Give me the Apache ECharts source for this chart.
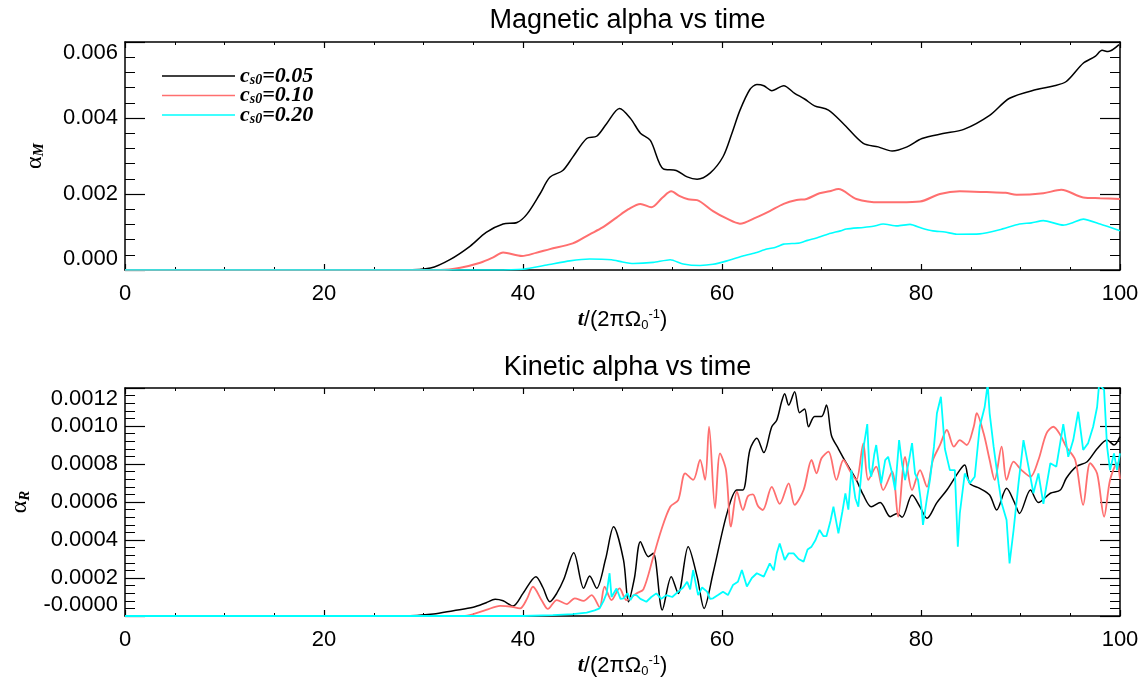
<!DOCTYPE html>
<html>
<head>
<meta charset="utf-8">
<script src="https://cdn.jsdelivr.net/npm/echarts@6/dist/echarts.min.js"></script>
<style>
html,body{margin:0;padding:0;background:#fff;}
#chart{width:1141px;height:677px;}
</style>
</head>
<body>
<div id="chart"></div>
<script>
// ---------- DATA ----------
// Titles
const topTitle = 'Magnetic alpha vs time';
const botTitle = 'Kinetic alpha vs time';
const seriesLabels = ['0.05', '0.10', '0.20'];
const xTickLabels = [0, 20, 40, 60, 80, 100];

// Magnetic alpha (units of 1e-3)
const magBlackT = [0, 28, 30.7, 32.7, 34.7, 36.3, 38, 39.4, 40.4, 41.7, 42.7, 44, 45, 46.4, 47.4, 48.4, 49.7, 50.8, 51.8, 52.8, 54.1, 55.4, 56.5, 57.5, 58.8, 60.1, 61.0, 61.8, 62.8, 63.5, 64.2, 65, 66.2, 67.3, 68.3, 69.3, 70.7, 72.2, 74.2, 75.7, 77.1, 78.6, 80.1, 82.2, 84.3, 86.9, 88.9, 91.6, 93.3, 94.6, 96.3, 97.5, 98.2, 98.8, 99.9];
const magBlackV = [0, 0, 0.05, 0.28, 0.63, 0.99, 1.21, 1.25, 1.47, 2.0, 2.44, 2.62, 2.97, 3.46, 3.52, 3.85, 4.25, 3.99, 3.6, 3.41, 2.66, 2.62, 2.45, 2.39, 2.55, 2.98, 3.6, 4.2, 4.75, 4.88, 4.85, 4.72, 4.85, 4.65, 4.5, 4.32, 4.21, 3.85, 3.33, 3.24, 3.13, 3.24, 3.46, 3.59, 3.70, 4.07, 4.52, 4.75, 4.84, 4.96, 5.44, 5.62, 5.78, 5.75, 5.93];

const magRedT = [0, 31.7, 33.7, 35.7, 37, 38, 39.9, 41.3, 42.7, 45, 46.7, 48, 49.4, 50.6, 51.8, 52.9, 54, 54.9, 55.7, 56.6, 57.5, 59.1, 60.5, 61.8, 63.4, 64.8, 66.2, 67.5, 68.5, 69.8, 70.8, 71.7, 73.5, 75.9, 77.9, 79.9, 81.9, 83.9, 86.6, 88.5, 89.6, 92.3, 94.1, 96.3, 98, 100];
const magRedV = [0, 0, 0.06, 0.19, 0.33, 0.46, 0.37, 0.45, 0.55, 0.70, 0.94, 1.12, 1.38, 1.6, 1.74, 1.65, 1.9, 2.07, 1.95, 1.86, 1.84, 1.55, 1.35, 1.22, 1.38, 1.55, 1.74, 1.84, 1.87, 2.02, 2.07, 2.13, 1.87, 1.78, 1.78, 1.80, 2.0, 2.07, 2.05, 2.03, 1.98, 2.02, 2.11, 1.91, 1.89, 1.87];

const magCyanT = [0, 37, 40, 42.4, 44.7, 46.7, 48.9, 50, 51.1, 53.1, 54.8, 56.1, 57.8, 59.1, 60.5, 62.1, 63.3, 64.5, 65.4, 66.2, 67.8, 68.6, 69.5, 70.7, 71.9, 72.5, 74.2, 75.2, 76.2, 77.6, 78.9, 80.1, 81.2, 82.4, 83.6, 85.9, 87.9, 89.9, 91.1, 92.3, 94.3, 95.3, 96.3, 98, 100];
const magCyanV = [0, 0, 0.02, 0.13, 0.24, 0.29, 0.27, 0.21, 0.17, 0.20, 0.27, 0.16, 0.12, 0.15, 0.24, 0.37, 0.45, 0.55, 0.60, 0.68, 0.71, 0.78, 0.84, 0.95, 1.03, 1.08, 1.12, 1.15, 1.21, 1.16, 1.20, 1.10, 1.03, 1.00, 0.94, 0.95, 1.06, 1.21, 1.24, 1.30, 1.18, 1.25, 1.34, 1.21, 1.03];

// Kinetic alpha (units of 1e-4)
const kinBlackT = [0, 28, 31, 33, 35, 36.3, 37.2, 38, 39, 40, 41.3, 42, 42.7, 43.4, 44.1, 45.1, 46.1, 46.7, 47.4, 48.3, 49.1, 50.1, 50.6, 51.2, 51.8, 52.6, 53.1, 54, 54.9, 55.6, 56.6, 57.5, 58.2, 59.1, 60.5, 61.5, 62.1, 62.8, 63.5, 64.2, 65, 65.5, 66, 66.3, 66.7, 67.3, 67.8, 68.3, 68.7, 69.3, 70, 70.5, 71, 71.7, 72.5, 73.5, 74.2, 75, 75.9, 76.9, 77.6, 78.1, 79.1, 79.9, 80.6, 81.6, 82.6, 83.9, 84.4, 84.9, 85.9, 86.9, 87.6, 88.6, 89.4, 89.9, 91, 91.8, 93, 94, 94.6, 95.6, 96.7, 97.7, 98.7, 99.4, 100];
const kinBlackV = [0, 0, 0.1, 0.28, 0.46, 0.7, 0.88, 0.8, 0.53, 1.19, 2.07, 1.5, 0.75, 1.2, 1.93, 3.33, 1.46, 2.1, 1.46, 3.0, 4.7, 2.95, 0.75, 2.0, 3.91, 3.12, 3.3, 0.32, 2.07, 1.19, 3.65, 2.07, 0.4, 2.25, 5.4, 6.63, 6.63, 8.74, 9.35, 8.6, 9.96, 10.3, 11.3, 11.7, 11.1, 11.8, 10.7, 10.9, 9.96, 10.5, 10.5, 11.1, 9.5, 8.8, 8.04, 7.16, 6.37, 5.75, 5.97, 5.23, 5.4, 5.2, 6.37, 5.75, 5.14, 5.97, 6.63, 7.68, 7.95, 6.98, 6.72, 6.37, 5.58, 6.72, 5.97, 5.4, 6.63, 5.97, 6.46, 6.63, 7.25, 7.86, 8.12, 8.8, 9.26, 9.0, 9.44];

const kinRedT = [0, 34, 35, 36.3, 37.7, 38.7, 39.7, 40.4, 41, 41.9, 42.5, 43.4, 44.4, 45.2, 46.1, 46.9, 47.7, 48.2, 48.9, 49.7, 50.4, 51.4, 52.1, 53.1, 53.9, 54.8, 55.6, 56.3, 57.1, 57.8, 58.3, 58.7, 59.3, 59.8, 60.4, 60.9, 61.5, 62.1, 62.6, 63.1, 63.6, 64.1, 65, 65.8, 66.7, 67.3, 68.2, 69, 69.5, 70, 70.7, 71.5, 72.2, 72.9, 73.5, 74.2, 74.7, 75.5, 76.2, 77.1, 77.7, 78.4, 79.1, 79.9, 80.6, 81.2, 81.9, 82.6, 83.3, 83.9, 84.6, 85.3, 85.6, 86.3, 86.9, 87.4, 88.1, 88.6, 89.3, 90.1, 91, 91.8, 92.6, 93.3, 94, 94.6, 95.5, 96.3, 97, 97.7, 98.4, 99, 99.7, 100];
const kinRedV = [0, 0, 0.1, 0.32, 0.53, 0.5, 0.4, 0.9, 1.54, 0.8, 0.37, 0.84, 0.63, 0.93, 0.8, 1.1, 0.47, 1.54, 0.84, 1.45, 0.84, 1.19, 1.4, 3.12, 4.53, 5.75, 6.1, 7.51, 7.16, 8.21, 7.16, 9.96, 5.67, 8.56, 7.68, 4.7, 6.54, 5.58, 6.3, 6.4, 5.8, 5.58, 6.8, 5.9, 6.98, 5.85, 6.63, 8.21, 7.51, 8.3, 8.65, 7.16, 8.21, 7.6, 7.16, 9.09, 7.16, 7.86, 6.63, 7.6, 5.23, 8.38, 6.63, 7.68, 6.8, 8.21, 8.99, 9.79, 8.91, 9.26, 9.0, 9.96, 10.67, 9.6, 8.21, 7.16, 8.91, 7.16, 8.12, 7.68, 7.33, 8.21, 9.6, 9.96, 9.53, 8.91, 8.21, 5.85, 8.04, 7.5, 5.23, 7.16, 8.04, 7.2];

const kinCyanT = [0, 40, 43, 45, 46.4, 47.2, 47.7, 48.1, 48.4, 48.7, 48.9, 49.1, 49.4, 49.8, 50.1, 50.5, 50.8, 51.1, 51.4, 51.8, 52.4, 52.9, 53.4, 53.9, 54.4, 55, 55.6, 56.1, 56.5, 56.8, 57.1, 57.4, 57.6, 58, 58.5, 58.8, 59.1, 59.6, 60.1, 60.6, 61.1, 61.6, 62, 62.5, 63, 63.5, 64.2, 64.8, 65.2, 65.5, 65.8, 66.3, 66.7, 67.2, 67.7, 68.2, 68.6, 69, 69.4, 69.8, 70.2, 70.5, 70.9, 71.2, 71.7, 72.1, 72.4, 72.7, 73, 73.4, 73.7, 74, 74.2, 74.6, 74.8, 75, 75.3, 75.5, 75.8, 76, 76.4, 76.7, 77.1, 77.4, 77.8, 78.1, 78.4, 78.8, 79.1, 79.4, 79.7, 80, 80.2, 80.6, 80.9, 81.3, 81.6, 82, 82.2, 82.4, 82.9, 83.4, 83.7, 83.9, 84.4, 84.9, 85.4, 85.9, 86.4, 86.7, 86.9, 87.3, 87.8, 88.1, 88.6, 88.9, 89.3, 89.8, 90.3, 90.8, 91.3, 91.8, 92.3, 93, 93.6, 94.3, 94.8, 95.3, 95.8, 96.3, 96.8, 97.3, 97.7, 97.9, 98.4, 98.7, 99, 99.4, 99.7, 100];
const kinCyanV = [0, 0, 0.05, 0.1, 0.18, 0.3, 0.4, 0.8, 1.19, 2.25, 1.0, 0.93, 1.45, 0.9, 0.93, 1.2, 0.84, 1.1, 1.1, 0.9, 0.75, 1.0, 1.19, 0.9, 1.1, 1.0, 1.28, 1.5, 1.8, 1.4, 2.42, 1.6, 1.1, 1.5, 1.28, 0.9, 0.93, 1.1, 1.28, 1.1, 1.63, 1.8, 2.42, 1.55, 2.0, 2.25, 2.07, 2.77, 2.4, 3.3, 3.82, 2.95, 3.3, 3.3, 3.0, 2.86, 3.5, 3.65, 4.0, 4.53, 4.2, 4.2, 5.0, 5.75, 4.35, 5.5, 6.45, 5.6, 7.68, 6.2, 5.75, 7.5, 8.8, 10.1, 7.8, 7.33, 8.5, 9.0, 7.8, 6.98, 8.2, 8.38, 7.5, 6.63, 9.26, 8.0, 7.16, 8.2, 9.1, 7.5, 7.16, 6.0, 4.79, 6.2, 7.16, 8.9, 10.67, 11.54, 10.2, 8.8, 7.68, 7.68, 3.65, 5.4, 7.5, 6.98, 7.33, 9.96, 11.0, 12.2, 10.67, 8.91, 6.98, 5.95, 5.05, 2.77, 4.5, 6.98, 9.26, 7.86, 6.46, 7.5, 5.9, 8.04, 7.86, 10.1, 8.38, 9.26, 10.75, 8.74, 9.1, 9.96, 11.0, 12.2, 11.9, 8.91, 7.68, 8.56, 7.68, 8.56];

const magScale = 1e-3;
const kinScale = 1e-4;

// ---------- BUILD ----------
function pairs(ts, vs, s) { return ts.map((t, i) => [t, vs[i] * s]); }

const SANS = '"Liberation Sans", Arial, Helvetica, sans-serif';
const SERIF = '"Liberation Serif", "Times New Roman", serif';
const colors = ['#000000', '#ff6f6f', '#00ffff'];
const names = seriesLabels.map(l => 'cs0=' + l);

function xAxisBottom(gridIndex) {
  return {
    type: 'value', gridIndex, position: 'bottom', min: 0, max: 100, interval: 20,
    axisLine: { show: true, onZero: false, lineStyle: { color: '#000', width: 1.5 } },
    axisTick: { show: true, inside: true, length: 6, lineStyle: { color: '#000', width: 1.2 } },
    minorTick: { show: true, splitNumber: 4, length: 3, lineStyle: { color: '#000', width: 1 } },
    splitLine: { show: false },
    axisLabel: { show: true, color: '#000', fontSize: 22, fontFamily: SANS, margin: 13,
      formatter: v => xTickLabels.indexOf(v) >= 0 ? String(v) : '' },
    name: '{t|t}{n|/(2πΩ}{sub|0}{sup|-1}{n|)}',
    nameLocation: 'middle', nameGap: 37,
    nameTextStyle: {
      rich: {
        t: { fontFamily: SERIF, fontStyle: 'italic', fontWeight: 'bold', fontSize: 22, color: '#000' },
        n: { fontFamily: SANS, fontSize: 22, color: '#000' },
        sub: { fontFamily: SANS, fontSize: 13, color: '#000', padding: [12, 0, 0, 0] },
        sup: { fontFamily: SANS, fontSize: 13, color: '#000', padding: [0, 0, 10, 0] }
      }
    }
  };
}
function xAxisTop(gridIndex) {
  return {
    type: 'value', gridIndex, position: 'top', min: 0, max: 100, interval: 20,
    axisLine: { show: true, onZero: false, lineStyle: { color: '#000', width: 1.5 } },
    axisTick: { show: true, inside: true, length: 6, lineStyle: { color: '#000', width: 1.2 } },
    minorTick: { show: true, splitNumber: 4, length: 3, lineStyle: { color: '#000', width: 1 } },
    splitLine: { show: false }, axisLabel: { show: false }
  };
}
function yAxisLeft(gridIndex, max, interval, digits, sub, minLabel) {
  return {
    type: 'value', gridIndex, position: 'left', min: 0, max, interval,
    axisLine: { show: true, onZero: false, lineStyle: { color: '#000', width: 1.5 } },
    axisTick: { show: true, inside: true, length: 20, lineStyle: { color: '#000', width: 1.2 } },
    minorTick: { show: true, splitNumber: 5, length: 10, lineStyle: { color: '#000', width: 1 } },
    splitLine: { show: false },
    axisLabel: { color: '#000', fontSize: 22, fontFamily: SANS, margin: 7,
      verticalAlignMinLabel: 'bottom', verticalAlignMaxLabel: 'top',
      formatter: v => (Math.abs(v) < 1e-12 ? minLabel : v.toFixed(digits)) },
    name: '{a|α}{s|' + sub + '}',
    nameLocation: 'middle', nameGap: 78, nameRotate: 90,
    nameTextStyle: {
      rich: {
        a: { fontFamily: SERIF, fontSize: 24, color: '#000' },
        s: { fontFamily: SERIF, fontStyle: 'italic', fontWeight: 'bold', fontSize: 15, color: '#000', padding: [10, 0, 0, 0] }
      }
    }
  };
}
function yAxisRight(gridIndex, max, interval) {
  return {
    type: 'value', gridIndex, position: 'right', min: 0, max, interval,
    axisLine: { show: true, onZero: false, lineStyle: { color: '#000', width: 1.5 } },
    axisTick: { show: true, inside: true, length: 20, lineStyle: { color: '#000', width: 1.2 } },
    minorTick: { show: true, splitNumber: 5, length: 10, lineStyle: { color: '#000', width: 1 } },
    splitLine: { show: false }, axisLabel: { show: false }
  };
}
function lineSeries(name, data, color, xi, yi, width, smooth) {
  return {
    type: 'line', name, data, xAxisIndex: xi, yAxisIndex: yi,
    showSymbol: false, symbol: 'none', smooth: smooth, clip: true,
    lineStyle: { color, width }, itemStyle: { color },
    animation: false
  };
}

const option = {
  backgroundColor: '#fff',
  animation: false,
  title: [
    { text: topTitle, left: 622.5, top: 2, textAlign: 'center',
      textStyle: { fontFamily: SANS, fontSize: 27, fontWeight: 'normal', color: '#000' } },
    { text: botTitle, left: 622.5, top: 349, textAlign: 'center',
      textStyle: { fontFamily: SANS, fontSize: 27, fontWeight: 'normal', color: '#000' } }
  ],
  legend: {
    data: names, left: 157, top: 60, orient: 'vertical', itemGap: -2.5,
    itemWidth: 73, itemHeight: 19, icon: 'path://M0,10 L73,10 L73,11.5 L0,11.5 Z',
    selectedMode: false,
    formatter: n => '{c|c}{s|s0}{c|=' + n.slice(4) + '}',
    textStyle: {
      rich: {
        c: { fontFamily: SERIF, fontStyle: 'italic', fontWeight: 'bold', fontSize: 22, lineHeight: 19, color: '#000' },
        s: { fontFamily: SERIF, fontStyle: 'italic', fontWeight: 'bold', fontSize: 14, lineHeight: 14, padding: [8, 0, 0, 0], color: '#000' }
      }
    }
  },
  grid: [
    { left: 125, top: 42, width: 995, height: 228, outerBoundsMode: 'none', containLabel: false },
    { left: 125, top: 388, width: 995, height: 228, outerBoundsMode: 'none', containLabel: false }
  ],
  xAxis: [xAxisBottom(0), xAxisTop(0), xAxisBottom(1), xAxisTop(1)],
  yAxis: [
    yAxisLeft(0, 0.006, 0.002, 3, 'M', '0.000'),
    yAxisRight(0, 0.006, 0.002),
    yAxisLeft(1, 0.0012, 0.0002, 4, 'R', '-0.0000'),
    yAxisRight(1, 0.0012, 0.0002)
  ],
  series: [
    lineSeries(names[0], pairs(magBlackT, magBlackV, magScale), colors[0], 0, 0, 1.5, 0.3),
    lineSeries(names[1], pairs(magRedT, magRedV, magScale), colors[1], 0, 0, 2, 0.3),
    lineSeries(names[2], pairs(magCyanT, magCyanV, magScale), colors[2], 0, 0, 1.6, 0.2),
    lineSeries(names[0], pairs(kinBlackT, kinBlackV, kinScale), colors[0], 2, 2, 1.5, 0.3),
    lineSeries(names[1], pairs(kinRedT, kinRedV, kinScale), colors[1], 2, 2, 1.8, 0.3),
    lineSeries(names[2], pairs(kinCyanT, kinCyanV, kinScale), colors[2], 2, 2, 1.8, false)
  ]
};

const chart = echarts.init(document.getElementById('chart'), null, { renderer: 'canvas' });
chart.setOption(option);
</script>
</body>
</html>
